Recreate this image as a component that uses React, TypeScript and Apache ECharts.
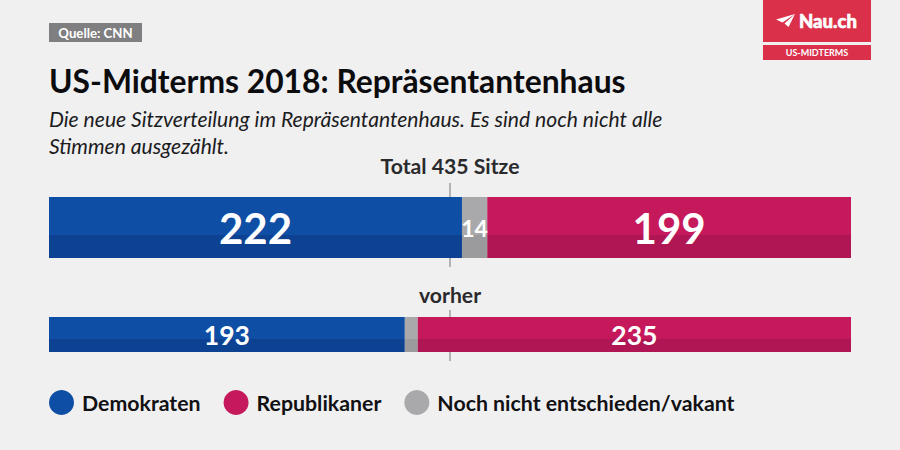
import React, { useEffect, useRef } from "react";
import * as echarts from "echarts";

const FONT = "Lato";
const TOTAL_SEATS = 435;

const rowNames = ["Neu", "Vorher"];
// Bar lengths as drawn in the picture (in seats on the 0-435 scale).
const demokratenLengths = [224, 193];
const offenLengths = [13.7, 7];
const republikanerLengths = [197.3, 235];
// Numbers as printed on the bars.
const demokratenLabels = ["222", "193"];
const offenLabels = ["14", ""];
const republikanerLabels = ["199", "235"];
const labelSizes = [42, 26.5];

const legendNames = ["Demokraten", "Republikaner", "Noch nicht entschieden/vakant"];
const legendColors = ["#0f4ea5", "#c5195c", "#a9a9ac"];

const bandColors: Record<string, [string, string]> = {
  Demokraten: ["#0f4ea5", "#0d4293"],
  Republikaner: ["#c5195c", "#b01653"],
  "Noch nicht entschieden/vakant": ["#a9a9ac", "#9b9b9e"],
};

echarts.graphic.registerShape(
  "nauPlane",
  echarts.graphic.extendPath("M0 5.5 L19 0 L6.5 8.5 Z M19 0 L12.5 13 L8.5 9.5 Z", {}) as any
);

function band(name: string, split: number) {
  const [top, bottom] = bandColors[name];
  return new echarts.graphic.LinearGradient(0, 0, 0, 1, [
    { offset: 0, color: top },
    { offset: split, color: top },
    { offset: split, color: bottom },
    { offset: 1, color: bottom },
  ]);
}

function rowSeries(row: number) {
  const split = 0.63;
  const make = (name: string, values: number[], labels: string[], size: number) => ({
    type: "bar" as const,
    name,
    stack: rowNames[row],
    xAxisIndex: row,
    yAxisIndex: row,
    barWidth: "100%",
    data: [values[row]],
    itemStyle: { color: band(name, split) },
    label: {
      show: labels[row] !== "",
      position: "inside" as const,
      formatter: labels[row],
      color: "#ffffff",
      fontFamily: FONT,
      fontWeight: 700,
      fontSize: size,
    },
  });
  return [
    make(legendNames[0], demokratenLengths, demokratenLabels, labelSizes[row]),
    make(legendNames[2], offenLengths, offenLabels, 23),
    make(legendNames[1], republikanerLengths, republikanerLabels, labelSizes[row]),
  ];
}

export default function App() {
  const ref = useRef<HTMLDivElement>(null);
  useEffect(() => {
    document.body.style.margin = "0";
    const chart = echarts.init(ref.current!, null, { renderer: "svg" });
    const xAxisBase = {
      type: "value" as const,
      min: 0,
      max: TOTAL_SEATS,
      show: false,
    };
    const yAxisBase = { type: "category" as const, show: false };
    chart.setOption({
      animation: false,
      backgroundColor: "#f0f0f1",
      title: [
        {
          text: "US-Midterms 2018: Repräsentantenhaus",
          left: 49,
          top: 65,
          padding: 0,
          textStyle: { fontFamily: FONT, fontWeight: 700, fontSize: 31.8, color: "#0c0c0e" },
        },
        {
          text: "Die neue Sitzverteilung im Repräsentantenhaus. Es sind noch nicht alle\nStimmen ausgezählt.",
          left: 49,
          top: 105,
          padding: 0,
          textStyle: {
            fontFamily: FONT,
            fontStyle: "italic",
            fontWeight: 400,
            fontSize: 21.1,
            lineHeight: 27,
            color: "#1c1c1e",
          },
        },
      ],
      grid: [
        { left: 49, width: 802, top: 197, height: 61 },
        { left: 49, width: 802, top: 317, height: 35 },
      ],
      xAxis: [
        { ...xAxisBase, gridIndex: 0 },
        { ...xAxisBase, gridIndex: 1 },
      ],
      yAxis: [
        { ...yAxisBase, gridIndex: 0, data: [rowNames[0]] },
        { ...yAxisBase, gridIndex: 1, data: [rowNames[1]] },
      ],
      legend: {
        left: 49,
        top: 390,
        padding: 0,
        itemWidth: 25,
        itemHeight: 25,
        itemGap: 23,
        icon: "circle",
        selectedMode: false,
        textStyle: {
          fontFamily: FONT,
          fontWeight: 700,
          fontSize: 21.3,
          color: "#111113",
          padding: [0, 0, 0, 3],
        },
        data: legendNames.map((name, i) => ({ name, itemStyle: { color: legendColors[i] } })),
      },
      series: [...rowSeries(0), ...rowSeries(1)],
      graphic: [
        { type: "line", shape: { x1: 450, y1: 183, x2: 450, y2: 267 }, style: { stroke: "#77777a", lineWidth: 1 } },
        { type: "line", shape: { x1: 450, y1: 310, x2: 450, y2: 361 }, style: { stroke: "#77777a", lineWidth: 1 } },
        { type: "rect", shape: { x: 49, y: 23, width: 93, height: 19 }, style: { fill: "#7f7f81" } },
        {
          type: "text",
          x: 95.5,
          y: 33,
          style: {
            text: "Quelle: CNN",
            fill: "#ffffff",
            font: `700 13.2px ${FONT}`,
            textAlign: "center",
            textVerticalAlign: "middle",
          },
        },
        {
          type: "text",
          x: 450,
          y: 166,
          style: {
            text: "Total 435 Sitze",
            fill: "#2a2a2c",
            font: `700 21.2px ${FONT}`,
            textAlign: "center",
            textVerticalAlign: "middle",
          },
        },
        {
          type: "text",
          x: 450,
          y: 295,
          style: {
            text: "vorher",
            fill: "#2a2a2c",
            font: `700 21.2px ${FONT}`,
            textAlign: "center",
            textVerticalAlign: "middle",
          },
        },
        { type: "rect", shape: { x: 763, y: 0, width: 108, height: 42 }, style: { fill: "#da304a" } },
        { type: "rect", shape: { x: 763, y: 45, width: 108, height: 15 }, style: { fill: "#da304a" } },
        { type: "nauPlane", x: 776, y: 14, style: { fill: "#ffffff" } },
        {
          type: "text",
          x: 799,
          y: 21,
          style: {
            text: "Nau.ch",
            fill: "#ffffff",
            stroke: "#ffffff",
            lineWidth: 0.6,
            font: `900 18.5px ${FONT}`,
            textAlign: "left",
            textVerticalAlign: "middle",
          },
        },
        {
          type: "text",
          x: 817,
          y: 52.5,
          style: {
            text: "US-MIDTERMS",
            fill: "#ffffff",
            font: `700 9px ${FONT}`,
            textAlign: "center",
            textVerticalAlign: "middle",
          },
        },
      ],
    });
    return () => chart.dispose();
  }, []);
  return <div ref={ref} style={{ width: 900, height: 450 }} />;
}
